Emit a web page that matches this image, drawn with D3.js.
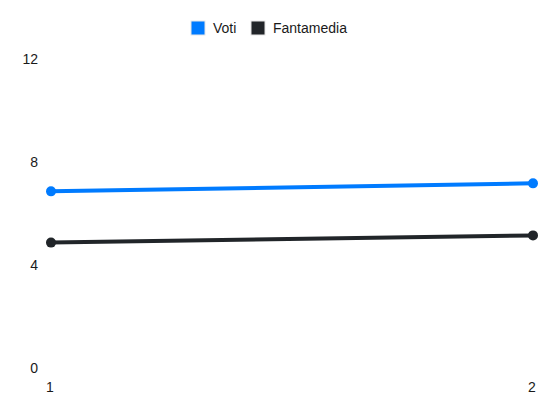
<!DOCTYPE html>
<html>
<head>
<meta charset="utf-8">
<script src="https://cdn.jsdelivr.net/npm/d3@7"></script>
<style>
  body { margin: 0; background: #fff; }
  text { font-family: "Liberation Sans", Arial, sans-serif; font-size: 14px; fill: #1a1a1a; }
</style>
</head>
<body>
<div id="root"></div>
<script>
const giornate = ["1", "2"];
const voti = [6.86, 7.17];
const fantamedia = [4.87, 5.15];
const yTicks = [0, 4, 8, 12];

const width = 550;
const height = 412;

const series = [
  { name: "Voti", color: "#007bff", values: voti },
  { name: "Fantamedia", color: "#212529", values: fantamedia }
];

const xScale = d3.scalePoint().domain(giornate).range([51, 533]);
const yScale = d3.scaleLinear().domain([0, 12]).range([368, 59]);

const svg = d3
  .select("#root")
  .append("svg")
  .attr("width", width)
  .attr("height", height);

// y labels, no gridlines in the original
svg
  .append("g")
  .selectAll("text")
  .data(yTicks)
  .enter()
  .append("text")
  .attr("x", 38)
  .attr("y", (d) => yScale(d))
  .attr("dy", "0.35em")
  .attr("text-anchor", "end")
  .text((d) => d);

// x labels
svg
  .append("g")
  .selectAll("text")
  .data(giornate)
  .enter()
  .append("text")
  .attr("x", (d) => xScale(d) - 1)
  .attr("y", 387)
  .attr("dy", "0.35em")
  .attr("text-anchor", "middle")
  .text((d) => d);

const line = d3
  .line()
  .x((d, i) => xScale(giornate[i]))
  .y((d) => yScale(d));

series.forEach((s) => {
  svg
    .append("path")
    .attr("d", line(s.values))
    .attr("fill", "none")
    .attr("stroke", s.color)
    .attr("stroke-width", 4);

  svg
    .append("g")
    .selectAll("circle")
    .data(s.values)
    .enter()
    .append("circle")
    .attr("cx", (d, i) => xScale(giornate[i]))
    .attr("cy", (d) => yScale(d))
    .attr("r", 5)
    .attr("fill", s.color);
});

// legend
const legendX = [191, 251];
const legend = svg
  .append("g")
  .selectAll("g")
  .data(series)
  .enter()
  .append("g")
  .attr("transform", (d, i) => `translate(${legendX[i]}, 21)`);

legend
  .append("rect")
  .attr("width", 14)
  .attr("height", 14)
  .attr("fill", (d) => d.color)
  .attr("stroke", "#e6e6e6")
  .attr("stroke-width", 1);

legend
  .append("text")
  .attr("x", 22)
  .attr("y", 7)
  .attr("dy", "0.35em")
  .text((d) => d.name);
</script>
</body>
</html>
